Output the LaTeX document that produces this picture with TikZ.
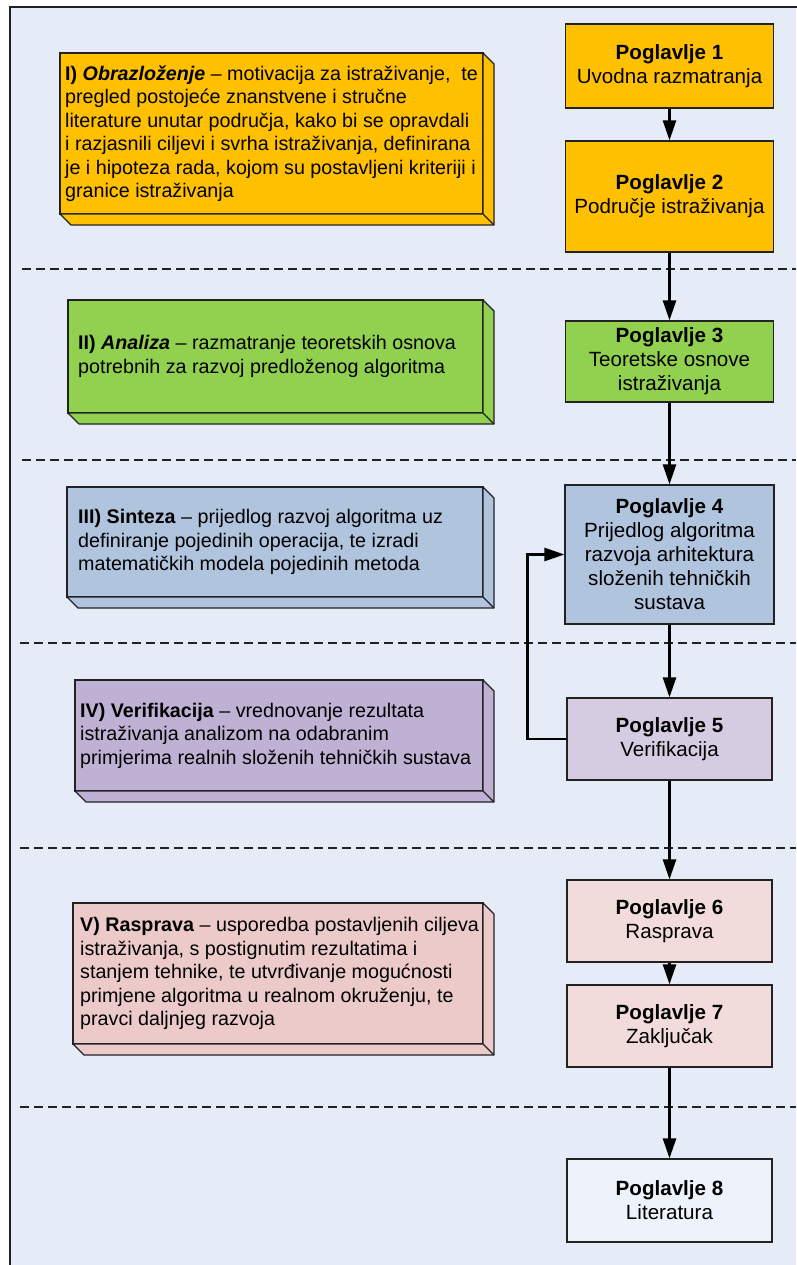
\documentclass[tikz,border=0pt]{standalone}
\usepackage{fontspec}
\setmainfont{Liberation Sans}
\usetikzlibrary{arrows.meta}

\definecolor{bgblue}{HTML}{E6ECF7}
\definecolor{edge}{HTML}{222222}
\definecolor{gold}{HTML}{FFC000}
\definecolor{leaf}{HTML}{92D050}
\definecolor{steel}{HTML}{B0C4DE}
\definecolor{lilac}{HTML}{BFB1D4}
\definecolor{lilaclight}{HTML}{D6CCE2}
\definecolor{rose}{HTML}{EDCACA}
\definecolor{roselight}{HTML}{F2DCDB}
\definecolor{paper}{HTML}{EEF2FA}

\tikzset{
  slab/.style={draw=edge, line width=1.2pt, outer sep=0pt, anchor=north west},
  slabtext/.style={anchor=west, inner sep=0pt, align=left,
    font=\fontsize{19.7}{23.5}\selectfont},
  slabedge/.style={draw=edge, line width=1.2pt, line join=round},
  chapter/.style={draw=edge, line width=1.2pt, align=center,
    font=\fontsize{20.6}{24}\selectfont},
  flow/.style={line width=2.6pt, ->},
  part/.style={draw=edge, line width=1.3pt, dash pattern=on 9pt off 5pt}
}
% right and bottom faces of a slab
\newcommand{\depth}[2]{%
  \draw[slabedge, fill=#2] (#1.north east) -- ++(11,11)
    -- ([shift={(11,11)}]#1.south east) -- ([shift={(11,11)}]#1.south west)
    -- (#1.south west) -- (#1.south east) -- cycle;
  \draw[slabedge] (#1.south east) -- ++(11,11);}

\begin{document}
\begin{tikzpicture}[x=1pt, y=-1pt, >={Triangle[length=20pt,width=13pt]}]
  \useasboundingbox (0,0) rectangle (796,1265);
  \fill[white] (0,0) rectangle (796,1265);
  \fill[bgblue] (10,7) rectangle (796,1265);
  \draw[edge, line width=2pt] (10,1266) -- (10,7) -- (797,7);

  % parts
  \draw[part] (22,269) -- (796,269);
  \draw[part] (22,460) -- (796,460);
  \draw[part] (20,643) -- (796,643);
  \draw[part] (20,848) -- (796,848);
  \draw[part] (20,1107) -- (796,1107);

  \node[slab, fill=gold, minimum width=423, minimum height=161] (obraz) at (60,53) {};
  \depth{obraz}{gold}
  \node[slabtext] (obraztxt) at ([xshift=5]obraz.west)
    {\textbf{I) \textit{Obrazloženje}} -- motivacija za istraživanje,~ te\\
     pregled postojeće znanstvene i stručne\\
     literature unutar područja, kako bi se opravdali\\
     i razjasnili ciljevi i svrha istraživanja, definirana\\
     je i hipoteza rada, kojom su postavljeni kriteriji i\\
     granice istraživanja};

  \node[slab, fill=leaf, minimum width=415, minimum height=113] (analiza) at (68,300) {};
  \depth{analiza}{leaf}
  \node[slabtext] (analizatxt) at ([xshift=10]analiza.west)
    {\textbf{II) \textit{Analiza}} -- razmatranje teoretskih osnova\\
     potrebnih za razvoj predloženog algoritma};

  \node[slab, fill=steel, minimum width=416, minimum height=110] (sinteza) at (67,487) {};
  \depth{sinteza}{steel}
  \node[slabtext] (sintezatxt) at ([xshift=11]sinteza.west)
    {\textbf{III) Sinteza} -- prijedlog razvoj algoritma uz\\
     definiranje pojedinih operacija, te izradi\\
     matematičkih modela pojedinih metoda};

  \node[slab, fill=lilac, minimum width=408, minimum height=111] (verif) at (75,680) {};
  \depth{verif}{lilac}
  \node[slabtext] (veriftxt) at ([xshift=5]verif.west)
    {\textbf{IV) Verifikacija} -- vrednovanje rezultata\\
     istraživanja analizom na odabranim\\
     primjerima realnih složenih tehničkih sustava};

  \node[slab, fill=rose, minimum width=410, minimum height=141] (rasprava) at (73,903) {};
  \depth{rasprava}{rose}
  \node[slabtext] (raspravatxt) at ([xshift=7]rasprava.west)
    {\textbf{V) Rasprava} -- usporedba postavljenih ciljeva\\
     istraživanja, s postignutim rezultatima i\\
     stanjem tehnike, te utvrđivanje mogućnosti\\
     primjene algoritma u realnom okruženju, te\\
     pravci daljnjeg razvoja};

  \node[chapter, fill=gold, minimum width=208, minimum height=84] (pog1) at (669.5,66)
    {\textbf{Poglavlje 1}\\Uvodna razmatranja};
  \node[chapter, fill=gold, minimum width=208, minimum height=111] (pog2) at (669.5,196.5)
    {\textbf{Poglavlje 2}\\Područje istraživanja};
  \node[chapter, fill=leaf, minimum width=208, minimum height=81] (pog3) at (669.5,361.5)
    {\textbf{Poglavlje 3}\\Teoretske osnove\\istraživanja};
  \node[chapter, fill=steel, minimum width=209, minimum height=139] (pog4) at (669.5,554.5)
    {\textbf{Poglavlje 4}\\Prijedlog algoritma\\razvoja arhitektura\\složenih tehničkih\\sustava};
  \node[chapter, fill=lilaclight, minimum width=205, minimum height=82] (pog5) at (669.5,739)
    {\textbf{Poglavlje 5}\\Verifikacija};
  \node[chapter, fill=roselight, minimum width=205, minimum height=82] (pog6) at (669.5,921)
    {\textbf{Poglavlje 6}\\Rasprava};
  \node[chapter, fill=roselight, minimum width=205, minimum height=82] (pog7) at (669.5,1026)
    {\textbf{Poglavlje 7}\\Zaključak};
  \node[chapter, fill=paper, minimum width=205, minimum height=83] (pog8) at (669.5,1200.5)
    {\textbf{Poglavlje 8}\\Literatura};

  \draw[flow] (pog1) -- (pog2);
  \draw[flow] (pog2) -- (pog3);
  \draw[flow] (pog3) -- (pog4);
  \draw[flow] (pog4) -- (pog5);
  \draw[flow] (pog5) -- (pog6);
  \draw[flow] (pog6) -- (pog7);
  \draw[flow] (pog7) -- (pog8);
  \draw[flow] (pog5.west) -- ++(-39,0) |- (pog4.west);
\end{tikzpicture}
\end{document}
